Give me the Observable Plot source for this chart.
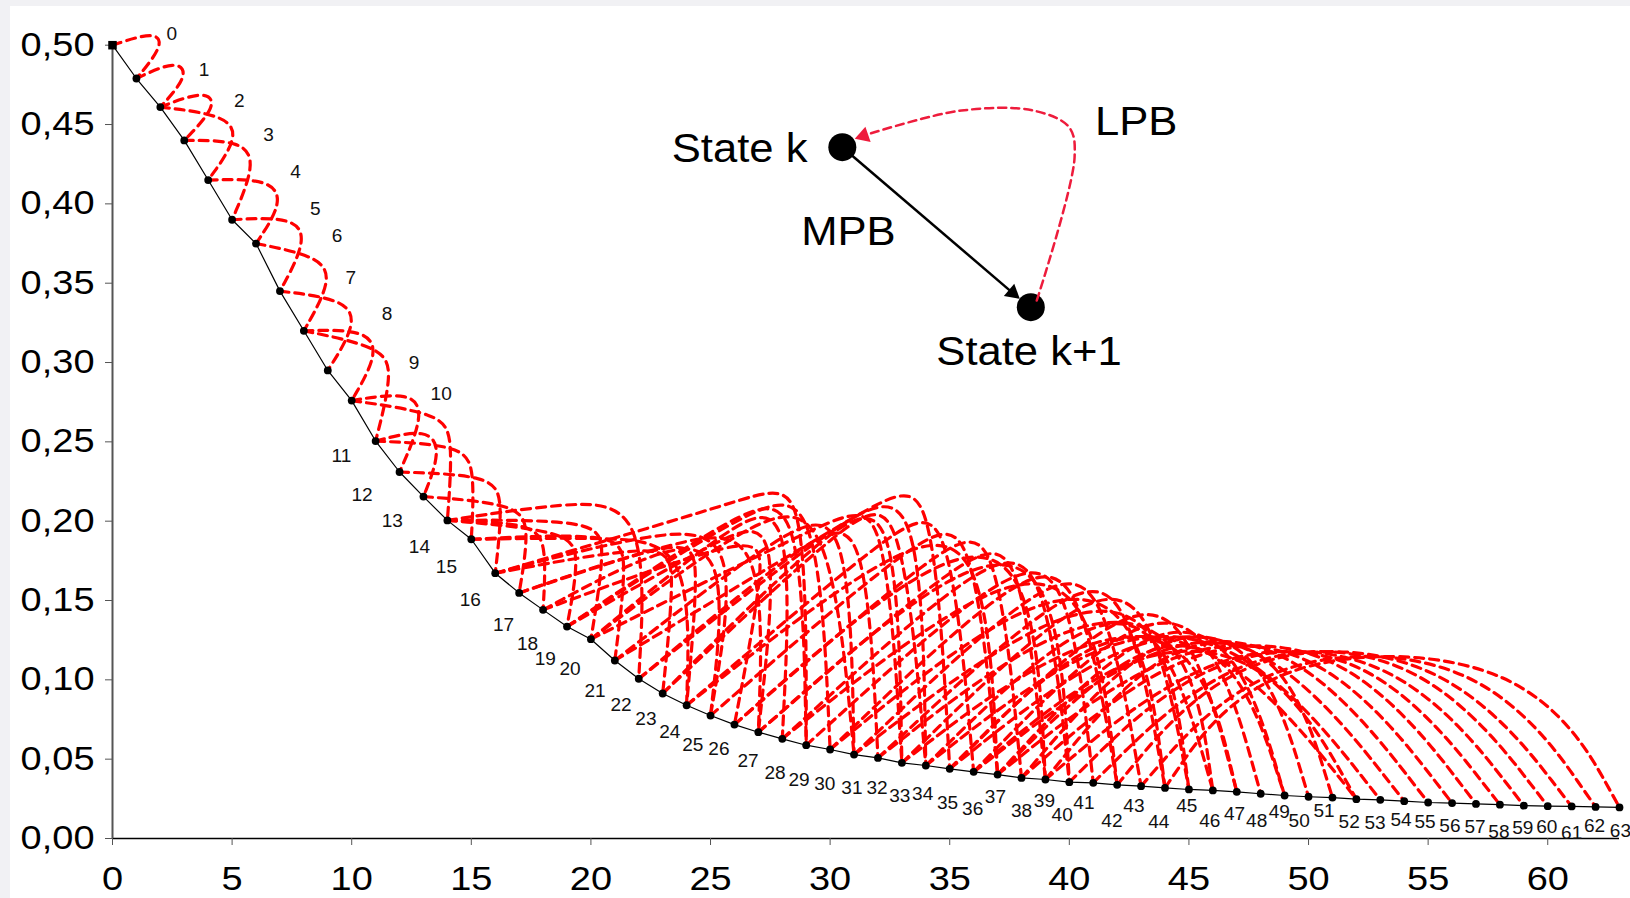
<!DOCTYPE html>
<html><head><meta charset="utf-8">
<script src="https://cdn.jsdelivr.net/npm/d3@7"></script>
<script src="https://cdn.jsdelivr.net/npm/@observablehq/plot@0.6"></script>
<style>
html,body{margin:0;padding:0;background:#f1f1f4;}
#chart{position:absolute;left:10px;top:6px;width:1620px;height:892px;background:#fff;overflow:hidden}
</style></head><body><div id="chart"></div>
<script>
// state probabilities, states 0..63
const stateProb = [0.500,0.479,0.461,0.440,0.415,0.390,0.375,0.345,0.320,0.295,
  0.276,0.2505,0.231,0.2155,0.2005,0.1886,0.1672,0.1548,0.1441,0.1336,
  0.1256,0.1122,0.1007,0.0914,0.0840,0.0775,0.0718,0.0670,0.0628,0.0588,
  0.0561,0.0529,0.0508,0.0477,0.0460,0.0439,0.0420,0.0403,0.0382,0.0372,
  0.0355,0.0351,0.0338,0.0330,0.0319,0.0309,0.0303,0.0294,0.0282,0.0271,
  0.0263,0.0258,0.0248,0.0244,0.0235,0.0227,0.0223,0.0218,0.0213,0.0207,
  0.0204,0.0202,0.0199,0.0196];
// state number label anchors (data units)
const stateLabelX = [2.48,3.83,5.30,6.52,7.65,8.48,9.39,9.96,11.48,12.61,
  13.74,9.57,10.43,11.70,12.83,13.96,14.96,16.35,17.35,18.09,
  19.13,20.17,21.26,22.30,23.30,24.26,25.35,26.57,27.70,28.70,
  29.78,30.91,31.96,32.91,33.87,34.91,35.96,36.91,38.00,38.96,
  39.70,40.61,41.78,42.70,43.74,44.91,45.87,46.91,47.83,48.78,
  49.61,50.65,51.70,52.78,53.87,54.87,55.91,56.96,57.96,58.96,
  59.96,61.00,61.96,63.04];
const stateLabelY = [0.5066,0.4843,0.4646,0.4430,0.4201,0.3965,0.3794,0.3532,0.3303,0.2995,
  0.2798,0.2412,0.2163,0.1999,0.1835,0.1710,0.1501,0.1343,0.1225,0.1127,
  0.1068,0.0931,0.0839,0.0754,0.0668,0.0590,0.0564,0.0485,0.0413,0.0367,
  0.0341,0.0315,0.0315,0.0269,0.0282,0.0223,0.0183,0.0262,0.0170,0.0236,
  0.0144,0.0223,0.0111,0.0203,0.0105,0.0203,0.0111,0.0151,0.0111,0.0164,
  0.0111,0.0170,0.0105,0.0098,0.0118,0.0105,0.0079,0.0072,0.0039,0.0066,
  0.0072,0.0033,0.0079,0.0046];
// LPB arcs (target state, source state, two bend points)
const lpbTo = [1,2,3,4,5,6,7,8,9,10,11,12,13,14,15,16,17,18,19,20,21,22,23,24,25,26,27,28,29,30,
  31,32,33,34,35,36,37,38,39,40,41,42,43,44,45,46,47,48,49,50,51,52,53,54,55,56,57,58,59,60,61,62,63,
  29,31,33,34,37,39,40,42,44,45,47,49,25,27,24,52,46];
const lpbFrom = [0,1,2,2,3,4,5,6,7,8, 8,10,11,10,11,12,13,14,14,14,
  15,14,16,17,16,18,19,20,16,19, 21,22,20,23,21,24,25,26,27,28,
  29,30,31,32,33,34,35,36,37,38, 39,33,34,35,36,37,38,39,40,41, 42,43,44,
  19,20,23,22,24,26,27,28,30,31,35,37,18,17,15,36,32];
const lpbAx = [1.8,2.7,3.9,4.75,5.45,6.6,7.6,8.65,9.7,10.6, 11.2,12.5,13.2,13.7,14.6,15.8,16.9,17.6,19.0,20.1,
  21.0,19.0,23.0,24.0,23.0,26.8,25.5,26.0,27.0,27.0, 28.5,29.5,30.5,31.0,32.3,33.0,34.0,35.0,36.0,36.5,
  37.5,38.0,39.0,40.0,40.5,40.5,42.0,42.5,43.0,43.5, 44.0,41.0,42.0,43.0,44.0,44.5,45.0,46.0,46.0,47.0, 47.0,48.0,48.0,
  26.5,27.0,30.5,31.0,33.0,34.5,35.5,37.0,38.5,39.5,41.0,43.0,23.0,24.0,21.0,42.5,40.0];
const lpbAy = [0.509,0.491,0.472,0.456,0.440,0.416,0.392,0.367,0.340,0.321, 0.310,0.282,0.259,0.268,0.248,0.229,0.211,0.199,0.194,0.201,
  0.193,0.212,0.187,0.191,0.195,0.193,0.190,0.200,0.216,0.212, 0.200,0.195,0.205,0.205,0.215,0.200,0.195,0.190,0.185,0.180,
  0.175,0.172,0.168,0.163,0.158,0.142,0.148,0.143,0.138,0.135, 0.130,0.140,0.140,0.140,0.135,0.130,0.130,0.125,0.125,0.125, 0.125,0.120,0.120,
  0.210,0.205,0.205,0.208,0.190,0.185,0.180,0.170,0.160,0.150,0.135,0.130,0.185,0.190,0.190,0.125,0.145];
const lpbBx = [2.15,3.2,4.4,5.3,6.0,7.15,8.15,9.2,10.25,11.15, 11.75,13.05,13.75,14.25,15.15,16.35,17.45,18.15,19.55,20.65,
  21.55,22.4,23.55,24.55,26.3,27.35,28.0,28.5,29.0,29.5, 30.8,31.5,32.3,33.0,34.3,35.0,36.0,37.0,38.0,39.0,
  40.0,40.5,41.5,42.5,43.5,44.0,45.0,46.0,47.0,48.0, 49.0,47.0,48.0,49.0,50.0,51.0,52.0,53.0,54.0,55.0, 56.0,57.5,59.4,
  28.8,30.0,32.8,33.8,36.5,38.5,39.5,41.0,43.0,44.0,45.5,47.0,25.8,27.3,24.2,48.5,45.0];
const lpbBy = [0.500,0.481,0.462,0.442,0.425,0.401,0.377,0.352,0.325,0.306, 0.295,0.267,0.244,0.253,0.233,0.214,0.196,0.184,0.179,0.186,
  0.178,0.211,0.172,0.176,0.192,0.178,0.205,0.214,0.228,0.218, 0.205,0.200,0.212,0.215,0.229,0.210,0.200,0.195,0.185,0.178,
  0.170,0.168,0.163,0.158,0.153,0.137,0.143,0.137,0.130,0.127, 0.124,0.120,0.120,0.120,0.120,0.120,0.120,0.118,0.118,0.118, 0.118,0.117,0.117,
  0.215,0.210,0.210,0.222,0.190,0.180,0.175,0.160,0.150,0.145,0.125,0.120,0.185,0.195,0.185,0.118,0.135];
// axes
const xTicks = [0,5,10,15,20,25,30,35,40,45,50,55,60];
const yTicks = [0,0.05,0.10,0.15,0.20,0.25,0.30,0.35,0.40,0.45,0.50];
const yTickLabels = ["0,00","0,05","0,10","0,15","0,20","0,25","0,30","0,35","0,40","0,45","0,50"];
// inset legend (data units)
const legendStateX = [30.51,38.39], legendStateY = [0.4357,0.3349];
const legendText = ["State k","MPB","State k+1","LPB"];
const legendTextX = [23.38,28.79,34.44,41.07], legendTextY = [0.4342,0.3821,0.3065,0.4514];
const legendLoopX = [38.64,40.22,39.99,38.5,35.49,31.63,31.4];
const legendLoopY = [0.3391,0.4294,0.4483,0.4588,0.4588,0.4441,0.4429];
const legendHeadX = [37.63,31.40], legendHeadY = [0.3439,0.4429], legendHeadAngle = [130,251];

const states = stateProb.map((p,k)=>({k,p,lx:stateLabelX[k],ly:stateLabelY[k]}));
const arcRows = [];
lpbTo.forEach((t,i)=>{
  const f = lpbFrom[i];
  arcRows.push({id:i,x:f,y:stateProb[f]},{id:i,x:lpbAx[i],y:lpbAy[i]},{id:i,x:lpbBx[i],y:lpbBy[i]},{id:i,x:t,y:stateProb[t]});
});
const loopRows = legendLoopX.map((x,i)=>({x,y:legendLoopY[i]}));
const font = "'Liberation Sans', Arial, Helvetica, sans-serif";

const chart = Plot.plot({
  width:1620, height:892,
  marginLeft:102, marginRight:11, marginTop:38.7, marginBottom:60,
  style:{fontFamily:font, background:"transparent", color:"#000"},
  x:{domain:[0,63]},
  y:{domain:[0,0.5]},
  marks:[
    Plot.ruleY([0],{x1:0,x2:63,stroke:"#000",strokeWidth:1.3}),
    Plot.ruleX([0],{y1:0,y2:0.5,stroke:"#555",strokeWidth:2}),
    Plot.axisX({ticks:xTicks, tickSize:7, tickPadding:21, fontSize:33, label:null, stroke:"#555"}),
    Plot.axisY({ticks:yTicks, tickFormat:d=>yTickLabels[yTicks.indexOf(d)], tickSize:7, tickPadding:11, fontSize:33, label:null, stroke:"#555"}),
    Plot.line(states,{x:"k",y:"p",stroke:"#000",strokeWidth:1.2}),
    Plot.line(arcRows,{x:"x",y:"y",z:"id",curve:"basis",stroke:"#ff0000",strokeWidth:3.2,strokeDasharray:"9,6"}),
    Plot.dot(states.filter(d=>d.k>0),{x:"k",y:"p",r:3.9,fill:"#000"}),
    Plot.dot(states.filter(d=>d.k===0),{x:"k",y:"p",r:4.8,symbol:"square",fill:"#000"}),
    Plot.text(states,{x:"lx",y:"ly",text:d=>String(d.k),fontSize:18,fill:"#111"}),
    // inset
    Plot.link([0],{x1:legendStateX[0],y1:legendStateY[0],x2:legendHeadX[0],y2:legendHeadY[0],stroke:"#000",strokeWidth:2.5}),
    Plot.dot(legendStateX,{x:d=>d,y:(d,i)=>legendStateY[i],r:14,fill:"#000"}),
    Plot.line(loopRows,{x:"x",y:"y",curve:"catmull-rom",stroke:"#ee1c3c",strokeWidth:2.5,strokeDasharray:"8,5"}),
    Plot.dot([0],{x:legendHeadX[0],y:legendHeadY[0],symbol:"triangle",r:6,rotate:legendHeadAngle[0],fill:"#000"}),
    Plot.dot([0],{x:legendHeadX[1],y:legendHeadY[1],symbol:"triangle",r:6,rotate:legendHeadAngle[1],fill:"#ee1c3c"}),
    Plot.text(legendText,{x:(d,i)=>legendTextX[i],y:(d,i)=>legendTextY[i],text:d=>d,textAnchor:"start",fontSize:40,fill:"#000"})
  ]
});
document.getElementById("chart").appendChild(chart);
// the source chart's lettering is slightly wide: stretch glyphs horizontally
chart.querySelectorAll("text").forEach(t=>{
  const fs = parseFloat(getComputedStyle(t).fontSize);
  const f = fs >= 39 ? 1.09 : fs >= 30 ? 1.15 : 1.06;
  const w = t.getComputedTextLength();
  if (w > 0) { t.setAttribute("textLength", (w*f).toFixed(1)); t.setAttribute("lengthAdjust","spacingAndGlyphs"); }
});
</script></body></html>
